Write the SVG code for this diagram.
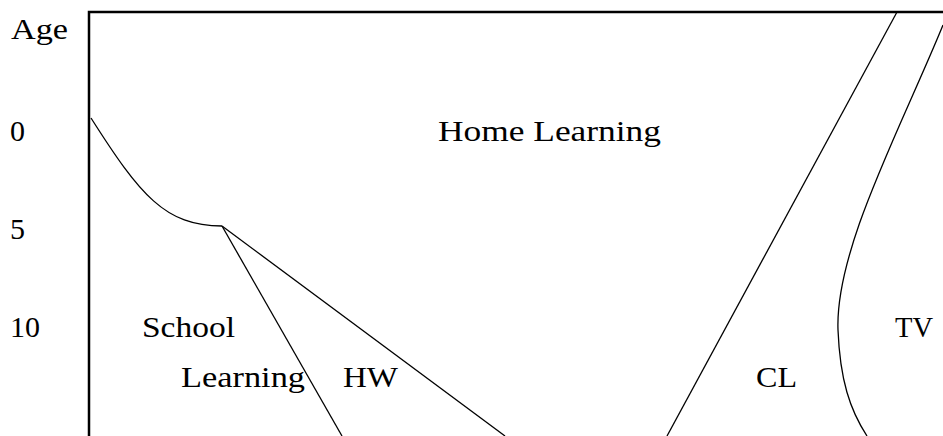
<svg xmlns="http://www.w3.org/2000/svg" width="943" height="436" viewBox="0 0 943 436">
<style>
text{font-family:"Liberation Serif","DejaVu Serif",serif;font-size:30px;fill:#000}
.frame{fill:none;stroke:#000;stroke-width:2.5}
.edge{fill:none;stroke:#000;stroke-width:1.3}
</style>
<rect width="943" height="436" fill="#fff"/>
<g id="frame">
<path class="frame" d="M89,436 V12 H943"/>
</g>
<g id="axis">
<text x="11" y="39" textLength="57" lengthAdjust="spacingAndGlyphs">Age</text>
<text x="10" y="141">0</text>
<text x="10" y="239">5</text>
<text x="10" y="337">10</text>
</g>
<g id="connectors">
<path class="edge" d="M91,118 C140,195 165,226 222,226"/>
<path class="edge" d="M222,226 L342,436"/>
<path class="edge" d="M222,226 L505,436"/>
<path class="edge" d="M897,12 L667,436"/>
<path class="edge" d="M943,25 C900,130 835,250 838,330 C840,380 850,410 867,436"/>
</g>
<g id="home-learning">
<text x="438" y="141" textLength="223" lengthAdjust="spacingAndGlyphs">Home Learning</text>
</g>
<g id="school-learning">
<text x="142" y="337" textLength="93" lengthAdjust="spacingAndGlyphs">School</text>
<text x="181" y="387" textLength="124" lengthAdjust="spacingAndGlyphs">Learning</text>
</g>
<g id="hw">
<text x="343" y="387" textLength="55" lengthAdjust="spacingAndGlyphs">HW</text>
</g>
<g id="cl">
<text x="756" y="387" textLength="41" lengthAdjust="spacingAndGlyphs">CL</text>
</g>
<g id="tv">
<text x="895" y="337" textLength="38" lengthAdjust="spacingAndGlyphs">TV</text>
</g>
</svg>
